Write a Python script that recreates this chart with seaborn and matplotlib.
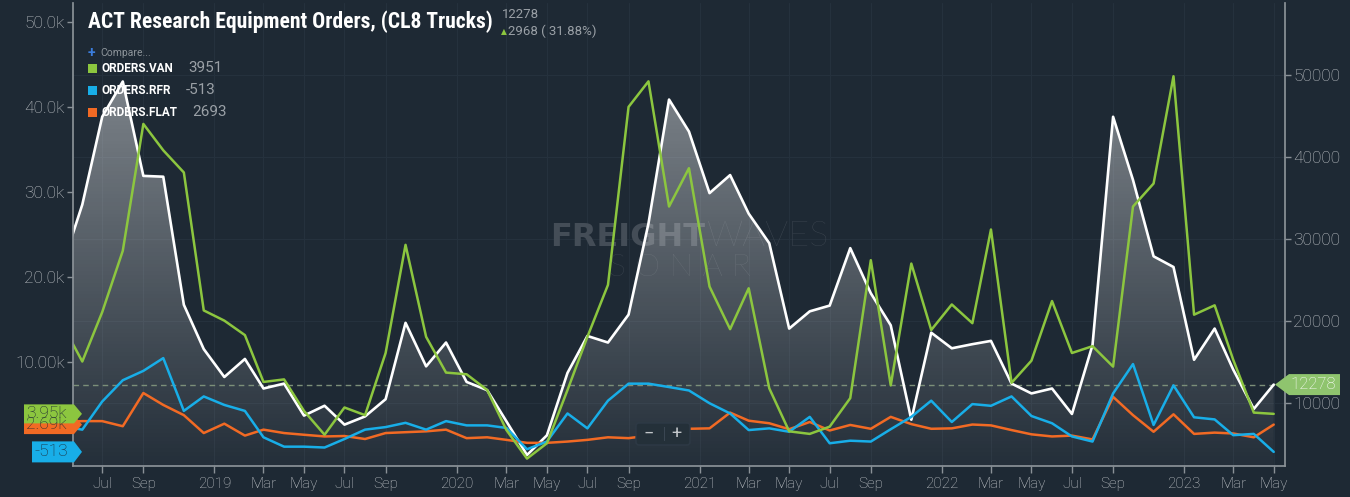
from __future__ import annotations

import matplotlib
matplotlib.use("Agg")
import matplotlib.dates as mdates
import matplotlib.pyplot as plt
import matplotlib.transforms as mtransforms
from matplotlib.patches import FancyBboxPatch, Polygon, Rectangle
import numpy as np
import pandas as pd
import seaborn as sns

BG = "#1e2934"
GREEN = "#8cc63f"
BLUE = "#18aee8"
ORANGE = "#f26a24"
TAG_GREEN = "#8fc46e"
TEXT = "#c2c6ca"
MUTED = "#9aa0a6"
SPINE = "#8a9197"
GRID = "#25313d"

W, H = 1350, 497

# monthly readings, May 2018 .. May 2023
months = pd.date_range("2018-05-01", periods=61, freq="MS") + pd.Timedelta(days=15)

total_orders = [26500, 34200, 44900, 49200, 37700, 37600, 22000, 16600, 13200, 15400,
                11800, 12400, 8500, 9700, 7400, 8400, 10500, 19800, 14500, 17400,
                12600, 11600, 7800, 3700, 6100, 13700, 18200, 17400, 20800, 31900,
                47000, 43100, 35600, 37800, 33100, 29500, 19100, 21200, 21900, 28900,
                23400, 19500, 8000, 18600, 16700, 17200, 17600, 12400, 11200, 11800,
                8700, 17100, 44900, 37200, 27900, 26600, 15300, 19100, 14100, 9310,
                12278]
van_orders = [14600, 10100, 15900, 23100, 38000, 34900, 32300, 16100, 14900, 13200,
              7700, 8000, 4300, 1500, 4700, 3800, 11100, 23800, 13000, 8800,
              8600, 6750, 2050, -1300, 500, 6750, 13000, 19100, 40000, 43000,
              28300, 32800, 18900, 13900, 18700, 6950, 1900, 1600, 2450, 5800,
              22000, 7300, 21600, 13800, 16800, 14600, 25600, 7600, 10200, 17200,
              11100, 11900, 9500, 28300, 31000, 43600, 15600, 16700, 10300, 4100,
              3951]
rfr_orders = [2500, 2100, 5400, 7900, 9000, 10500, 4300, 6000, 5000, 4300,
              1200, 100, 100, 0, 1000, 2100, 2400, 2900, 2100, 3100,
              2600, 2600, 2300, -200, 700, 4000, 2250, 5500, 7500, 7500,
              7100, 6700, 5200, 4000, 2050, 2250, 1850, 3600, 500, 800,
              700, 2150, 3600, 5500, 3000, 5100, 4900, 6000, 3700, 2850,
              1300, 700, 6350, 9800, 2650, 7300, 3550, 3300, 1450, 1600,
              -513]
flat_orders = [3000, 3100, 3100, 2500, 6400, 5000, 3800, 1700, 2800, 1400,
               2100, 1700, 1500, 1300, 1350, 1000, 1700, 1800, 1900, 2100,
               1100, 1200, 900, 550, 550, 700, 900, 1200, 1100, 1400,
               1900, 2200, 2250, 4100, 3150, 2850, 2150, 3000, 2000, 2650,
               2200, 3600, 2750, 2200, 2250, 2700, 2600, 2050, 1550, 1300,
               1400, 950, 5950, 3800, 1850, 3900, 1600, 1750, 1650, 1200,
               2693]

left_ticks = [0, 10000, 20000, 30000, 40000, 50000]
left_labels = ["0", "10.00k", "20.0k", "30.0k", "40.0k", "50.0k"]
right_ticks = [10000, 20000, 30000, 40000, 50000]

series_names = ["ORDERS.VAN", "ORDERS.RFR", "ORDERS.FLAT"]
series_last = ["3951", "-513", "2693"]
tag_texts = ["3.95k", "-513", "2.69k"]

df = pd.DataFrame({"date": months, "total": total_orders, "van": van_orders,
                   "rfr": rfr_orders, "flat": flat_orders})


def fx(px):
    return px / W


def fy(py):
    return 1 - py / H


sns.set_theme(style="dark")
plt.rcParams["font.family"] = ["Roboto", "DejaVu Sans"]

fig = plt.figure(figsize=(W / 100, H / 100), dpi=100, facecolor=BG)
ax2 = fig.add_axes([fx(73), 31 / H, 1212 / W, 463 / H])
ax = ax2.twinx()
# left scale on the twin that sits on top, right scale (and the x axis) below it
ax.yaxis.set_label_position("left")
ax.yaxis.tick_left()
ax2.yaxis.set_label_position("right")
ax2.yaxis.tick_right()
ax2.set_facecolor(BG)
ax.patch.set_visible(False)

x0 = pd.Timestamp("2018-06-02")
x1 = pd.Timestamp("2023-06-02")
left_lim = (-2170, 52200)
right_lim = (2360, 58760)

# total orders, right scale, with gradient fill
poly = ax2.fill_between(df["date"], df["total"], right_lim[0], facecolor="none", edgecolor="none")
grad = np.ones((256, 1, 4))
grad[:, 0, 3] = np.linspace(0.5, 0.03, 256)
im = ax2.imshow(grad, extent=[mdates.date2num(x0), mdates.date2num(x1), right_lim[0], right_lim[1]],
                aspect="auto", origin="upper", zorder=1, interpolation="bilinear")
im.set_clip_path(poly.get_paths()[0], transform=ax2.transData)
sns.lineplot(data=df, x="date", y="total", ax=ax2, color="white", linewidth=1.9, zorder=3, legend=False)
ax2.axhline(total_orders[-1], color="#7c8f79", linestyle=(0, (4, 3)), linewidth=1, zorder=2)

# watermark
ax2.text(fx(705), fy(237), "FREIGHT", transform=fig.transFigure, ha="right", va="center",
         fontsize=23, fontweight="bold", color="#444d57", family="DejaVu Sans", zorder=0.6)
ax2.text(fx(707), fy(237), "WAVES", transform=fig.transFigure, ha="left", va="center",
         fontsize=26, fontweight="light", color="#414a54", family=["Lato", "DejaVu Sans"], zorder=0.6)
ax2.text(fx(680), fy(267), "S O N A R", transform=fig.transFigure, ha="center", va="center",
         fontsize=23, fontweight="light", color="#414a54", family=["Lato", "DejaVu Sans"], zorder=0.6)

# trailer orders, left scale
for col, color in [("flat", ORANGE), ("rfr", BLUE), ("van", GREEN)]:
    sns.lineplot(data=df, x="date", y=col, ax=ax, color=color, linewidth=1.8, legend=False)

ax.set_xlim(x0, x1)
ax2.set_xlim(x0, x1)
ax.set_ylim(*left_lim)
ax2.set_ylim(*right_lim)

month_ticks, month_labels = [], []
for yr in range(2018, 2024):
    for m in [1, 3, 5, 7, 9]:
        if m == 1:
            d = pd.Timestamp(yr, 1, 1)
            lab = str(yr)
        else:
            d = pd.Timestamp(yr, m, 16)
            lab = d.strftime("%b")
        if x0 <= d <= x1:
            month_ticks.append(d)
            month_labels.append(lab)
ax2.set_xticks(month_ticks)
ax2.set_xticklabels(month_labels)
ax.set_yticks(left_ticks)
ax.set_yticklabels(left_labels)
ax2.set_yticks(right_ticks)
ax2.set_yticklabels([str(t) for t in right_ticks])

ax.grid(False)
ax2.grid(True, color=GRID, linewidth=0.8)
ax2.set_axisbelow(True)
for a in (ax, ax2):
    a.set_xlabel("")
    a.set_ylabel("")

for name, sp in ax.spines.items():
    sp.set_visible(name == "left")
    sp.set_color(SPINE)
for name, sp in ax2.spines.items():
    sp.set_visible(name in ("right", "bottom"))
    sp.set_color(SPINE)

ax.tick_params(axis="y", colors=SPINE, labelcolor=TEXT, labelsize=12.5, length=4, width=1, pad=2, left=True)
ax2.tick_params(axis="x", colors=SPINE, labelcolor=TEXT, labelsize=11, length=5, width=1, pad=3,
                bottom=True, labelbottom=True)
ax2.tick_params(axis="y", colors=SPINE, labelcolor=TEXT, labelsize=12.5, length=4, width=1, pad=2, right=True)
for lbl in ax.get_yticklabels() + ax2.get_yticklabels() + ax2.get_xticklabels():
    lbl.set_fontweight("light")

# header
fig.text(fx(88), fy(22), "ACT Research Equipment Orders, (CL8 Trucks)", fontsize=15.6,
         fontweight="bold", color="white", va="center",
         family=["Roboto Condensed", "Liberation Sans Narrow", "Roboto"])
fig.text(fx(502), fy(15), str(total_orders[-1]), fontsize=9.5, color=MUTED, va="center")
fig.text(fx(501), fy(32), "▲", fontsize=5.5, color=GREEN, va="center", family="DejaVu Sans")
change = total_orders[-1] - total_orders[-2]
fig.text(fx(508), fy(31.5), f"{change} ( {change / total_orders[-2] * 100:.2f}%)", fontsize=9.5,
         color=MUTED, va="center")
fig.text(fx(88), fy(52.5), "+", fontsize=10, color="#3b7ddd", va="center", fontweight="bold")
fig.text(fx(100), fy(53), "Compare...", fontsize=7.5, color="#8d949a", va="center")
for k, (name, last, color) in enumerate(zip(series_names, series_last, [GREEN, BLUE, ORANGE])):
    cy = 68.5 + 22 * k
    fig.add_artist(Rectangle((fx(88), fy(cy + 4.5)), 9 / W, 9 / H, transform=fig.transFigure,
                             facecolor=color, edgecolor="none"))
    fig.text(fx(101), fy(cy), name, fontsize=8.5, fontweight="bold", color="white", va="center")
    fig.text(fx(188 + (4 if k == 2 else 0) - (2 if k == 1 else 0)), fy(cy), last, fontsize=11,
             color=MUTED, va="center")

# zoom control box
ident = mtransforms.IdentityTransform()
fig.add_artist(FancyBboxPatch((636, H - 445), 54, 22, boxstyle="round,pad=0,rounding_size=3",
                              facecolor="#243039", edgecolor="#2e3a46", transform=ident, zorder=10))
fig.add_artist(Rectangle((664, H - 441), 1, 14, facecolor="#3a4652", edgecolor="none",
                         transform=ident, zorder=10))
fig.text(649, H - 434, "−", transform=ident, fontsize=13, color=TEXT, ha="center", va="center", zorder=11)
fig.text(676, H - 434, "+", transform=ident, fontsize=13, color=TEXT, ha="center", va="center", zorder=11)


def tag(val, axis, body0, body1, tip, color, text, tcolor, fs, height=19):
    yd = axis.transData.transform((mdates.date2num(x1), val))[1]
    hh = height / 2
    if tip > body1:
        pts = [(body0, yd - hh), (body1, yd - hh), (tip, yd), (body1, yd + hh), (body0, yd + hh)]
    else:
        pts = [(tip, yd), (body0, yd - hh), (body1, yd - hh), (body1, yd + hh), (body0, yd + hh)]
    fig.add_artist(Polygon(pts, closed=True, facecolor=color, edgecolor="none", transform=ident, zorder=12))
    fig.text(body0 + 2, yd, text, transform=ident, fontsize=fs, color=tcolor, va="center",
             ha="left", zorder=13, fontweight="light")


tag(flat_orders[-1], ax, 24, 74, 82, ORANGE, tag_texts[2], "#1e2934", 12.5)
tag(van_orders[-1], ax, 24, 74, 82, GREEN, tag_texts[0], "#1e2934", 12.5)
tag(rfr_orders[-1], ax, 32, 74, 82, BLUE, tag_texts[1], "#1e2934", 12.5, height=21)
tag(total_orders[-1], ax2, 1289, 1340, 1275, TAG_GREEN, str(total_orders[-1]), "white", 12, height=21)

fig.savefig("out.png", dpi=100, facecolor=BG)
plt.close(fig)
